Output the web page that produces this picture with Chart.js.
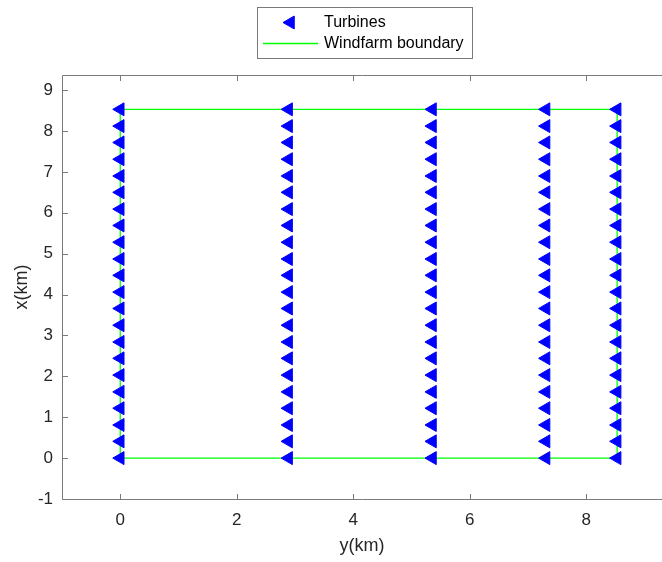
<!DOCTYPE html>
<html>
<head>
<meta charset="utf-8">
<script src="https://cdn.jsdelivr.net/npm/chart.js@4.4.1/dist/chart.umd.min.js"></script>
<style>
  html, body { margin: 0; padding: 0; background: #fff; }
  #wrap { width: 662px; height: 562px; }
</style>
</head>
<body>
<div id="wrap"><canvas id="farmChart" width="662" height="562"></canvas></div>
<script>
// horizontal axis is y(km), vertical axis is x(km)
const turbineYKm = [0, 2.89, 5.36, 7.31, 8.53];
const turbineXKm = [0, 0.41, 0.81, 1.22, 1.62, 2.03, 2.44, 2.84, 3.25, 3.66, 4.06,
                    4.47, 4.87, 5.28, 5.69, 6.09, 6.5, 6.9, 7.31, 7.72, 8.12, 8.53];
const boundaryYKm = [0, 0, 8.53, 8.53, 0];
const boundaryXKm = [0, 8.53, 8.53, 0, 0];
const yKmTicks = [0, 2, 4, 6, 8];
const xKmTicks = [-1, 0, 1, 2, 3, 4, 5, 6, 7, 8, 9];

const axisColor = '#7a7a7a';
const textColor = '#262626';
const turbineBlue = '#0000ff';
const boundaryGreen = '#00ff00';

const turbinePoints = [];
turbineYKm.forEach(yk => {
    turbineXKm.forEach(xk => turbinePoints.push({ x: yk, y: xk }));
});
const boundaryPoints = boundaryYKm.map((yk, i) => ({ x: yk, y: boundaryXKm[i] }));

const markerStyle = { pointStyle: 'triangle', rotation: -90, radius: 7.5, borderWidth: 1 };

// MATLAB-like box, inward ticks and legend
const matlabAxes = {
    id: 'matlabAxes',
    afterDraw(chart) {
        const { ctx, chartArea: a, scales: { x, y } } = chart;
        const L = Math.round(a.left) + 0.5;
        const B = Math.round(a.bottom) + 0.5;
        const T = Math.round(a.top) + 0.5;
        const R = a.right;
        ctx.save();
        ctx.strokeStyle = axisColor;
        ctx.lineWidth = 1;
        ctx.beginPath();
        ctx.moveTo(R, T); ctx.lineTo(L, T); ctx.lineTo(L, B); ctx.lineTo(R, B);
        x.ticks.forEach(t => {
            const px = Math.round(x.getPixelForValue(t.value)) + 0.5;
            ctx.moveTo(px, B); ctx.lineTo(px, B - 5.5);
            ctx.moveTo(px, T); ctx.lineTo(px, T + 5.5);
        });
        y.ticks.forEach(t => {
            const py = Math.round(y.getPixelForValue(t.value)) + 0.5;
            ctx.moveTo(L, py); ctx.lineTo(L + 5.5, py);
        });
        ctx.stroke();

        // legend
        const ds = chart.data.datasets;
        ctx.fillStyle = '#fff';
        ctx.fillRect(257.5, 7.5, 215, 51);
        ctx.strokeRect(257.5, 7.5, 215, 51);

        ctx.fillStyle = turbineBlue;
        ctx.strokeStyle = turbineBlue;
        Chart.helpers.drawPoint(ctx, markerStyle, 290.5, 22.5);

        ctx.strokeStyle = boundaryGreen;
        ctx.lineWidth = 1.3;
        ctx.beginPath();
        ctx.moveTo(263, 43.5); ctx.lineTo(318, 43.5);
        ctx.stroke();

        ctx.fillStyle = '#000';
        ctx.font = '16px "Liberation Sans", Arial, sans-serif';
        ctx.textBaseline = 'middle';
        ctx.fillText(ds[0].label, 324, 22.5);
        ctx.fillText(ds[1].label, 324, 44);
        ctx.restore();
    }
};

const tickFont = { family: '"Liberation Sans", Arial, sans-serif', size: 17 };
const titleFont = { family: '"Liberation Sans", Arial, sans-serif', size: 18 };

const ctx = document.getElementById('farmChart').getContext('2d');
const farmChart = new Chart(ctx, {
    type: 'scatter',
    data: {
        datasets: [{
            label: 'Turbines',
            data: turbinePoints,
            pointStyle: 'triangle',
            rotation: -90,
            pointRadius: markerStyle.radius,
            pointBorderWidth: 1,
            backgroundColor: turbineBlue,
            borderColor: turbineBlue
        }, {
            label: 'Windfarm boundary',
            data: boundaryPoints,
            showLine: true,
            pointRadius: 0,
            borderColor: boundaryGreen,
            borderWidth: 1.3,
            fill: false
        }]
    },
    options: {
        responsive: false,
        animation: false,
        layout: { autoPadding: false, padding: { top: 75, left: 0, right: 0, bottom: 0 } },
        plugins: {
            legend: { display: false },
            tooltip: { enabled: false }
        },
        scales: {
            x: {
                type: 'linear',
                min: -1,
                max: 9.3,
                afterBuildTicks: s => { s.ticks = yKmTicks.map(v => ({ value: v })); },
                afterFit: s => { s.height = 63; s.paddingLeft = 0; s.paddingRight = 0; },
                grid: { display: false, drawTicks: false },
                border: { display: false },
                ticks: { padding: 11, color: textColor, font: tickFont, maxRotation: 0 },
                title: { display: true, text: 'y(km)', color: textColor, font: titleFont, padding: { top: 0, bottom: 5 } }
            },
            y: {
                type: 'linear',
                min: -1,
                max: 9.37,
                afterBuildTicks: s => { s.ticks = xKmTicks.map(v => ({ value: v })); },
                afterFit: s => { s.width = 62; s.paddingTop = 0; s.paddingBottom = 0; },
                grid: { display: false, drawTicks: false },
                border: { display: false },
                ticks: { padding: 9, color: textColor, font: tickFont },
                title: { display: true, text: 'x(km)', color: textColor, font: titleFont, padding: { top: 11, bottom: 0 } }
            }
        }
    },
    plugins: [matlabAxes]
});
</script>
</body>
</html>
